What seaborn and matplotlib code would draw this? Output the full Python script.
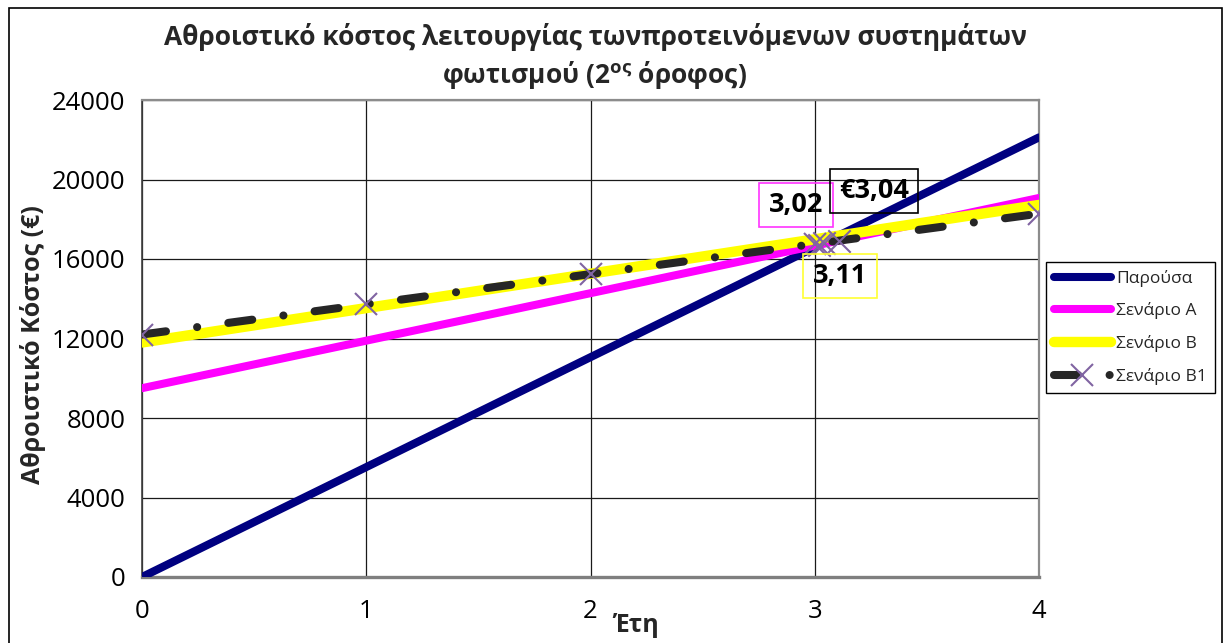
import matplotlib
matplotlib.use("Agg")
import matplotlib.pyplot as plt
import seaborn as sns
from matplotlib.patches import Rectangle

# ---- data ----
years = [0, 1, 2, 3, 4]
parousa = [0, 5530, 11060, 16590, 22120]
senario_a = [9500, 11890, 14280, 16670, 19070]
senario_b = [11800, 13530, 15260, 16990, 18720]
senario_b1 = [12200, 13720, 15240, 16760, 18280]

cross_years = [3.02, 3.04, 3.11]
cross_costs = [16720, 16800, 16900]
cross_labels = ["3,02", "€3,04", "3,11"]
cross_edge = ["#FF33FF", "#000000", "#FFFF33"]

x_ticks = [0, 1, 2, 3, 4]
y_ticks = [0, 4000, 8000, 12000, 16000, 20000, 24000]

title_line1 = "Αθροιστικό κόστος λειτουργίας τωνπροτεινόμενων συστημάτων"
title_line2 = "φωτισμού (2$^{\\mathregular{ος}}$ όροφος)"
y_label = "Αθροιστικό Κόστος (€)"
x_label = "Έτη"

# ---- style ----
sns.set_style("white")
plt.rcParams["font.family"] = ["Open Sans", "DejaVu Sans"]
plt.rcParams["mathtext.fontset"] = "custom"
plt.rcParams["mathtext.rm"] = "Open Sans"
plt.rcParams["mathtext.bf"] = "Open Sans:bold"
plt.rcParams["mathtext.it"] = "Open Sans:italic"

fig = plt.figure(figsize=(12.31, 6.43), dpi=100)
ax = fig.add_axes([142 / 1231, 1 - 577 / 643, (1039 - 142) / 1231, (577 - 100) / 643])

# outer frame
fig.patches.append(Rectangle((9 / 1231, -0.05), (1222 - 9) / 1231, 1.05 - 8 / 643,
                             transform=fig.transFigure, fill=False,
                             edgecolor="black", linewidth=1.2))

# ---- series ----
sns.lineplot(x=years, y=parousa, ax=ax, color="#000080", linewidth=5.8,
             label="Παρούσα", solid_capstyle="round", zorder=3)
sns.lineplot(x=years, y=senario_a, ax=ax, color="#FF00FF", linewidth=5.8,
             label="Σενάριο A", solid_capstyle="round", zorder=3)
sns.lineplot(x=years, y=senario_b, ax=ax, color="#FFFF00", linewidth=7.5,
             label="Σενάριο B", solid_capstyle="round", zorder=3)
sns.lineplot(x=years, y=senario_b1, ax=ax, color="#262626", linewidth=5.8,
             label="Σενάριο B1", zorder=4, dashes=False)
b1_line = ax.get_lines()[-1]
b1_line.set_linestyle((0, (3.0, 3.9, 0.01, 3.9)))
b1_line.set_dash_capstyle("round")
b1_line.set_marker("x")
b1_line.set_markersize(16)
b1_line.set_markeredgewidth(1.5)
b1_line.set_markeredgecolor("#8064A2")
b1_line.set_markerfacecolor("#8064A2")

sns.scatterplot(x=cross_years, y=cross_costs, ax=ax, marker="x", s=260,
                color="#8064A2", linewidth=1.5, zorder=5, legend=False)

# ---- labels for crossing points ----
label_pos = [(796, 205), (874, 191), (840, 276)]
for (px, py), txt, ec in zip(label_pos, cross_labels, cross_edge):
    fig.text(px / 1231, 1 - py / 643, txt, ha="center", va="center",
             fontsize=19.5, fontweight="bold", color="black",
             bbox=dict(boxstyle="square,pad=0.35", facecolor="none",
                       edgecolor=ec, linewidth=1.2))

# ---- axes ----
ax.set_xlim(0, 4)
ax.set_ylim(0, 24000)
ax.set_xticks(x_ticks)
ax.set_yticks(y_ticks)
ax.set_xticklabels([str(v) for v in x_ticks])
ax.set_yticklabels([str(v) for v in y_ticks])
ax.tick_params(axis="both", labelsize=18.5, direction="out", length=6,
               width=1, colors="#222222", labelcolor="black")
ax.tick_params(axis="x", pad=10)
ax.tick_params(axis="y", pad=6)
ax.grid(True, color="#1a1a1a", linewidth=0.9)
ax.set_axisbelow(True)
for side in ["top", "right"]:
    ax.spines[side].set_color("#8c8c8c")
    ax.spines[side].set_linewidth(1.6)
ax.spines["left"].set_color("#404040")
ax.spines["left"].set_linewidth(1.2)
ax.spines["bottom"].set_color("#7f7f7f")
ax.spines["bottom"].set_linewidth(2.4)

ax.set_ylabel("")
ax.set_xlabel("")
fig.text(33 / 1231, 1 - 345 / 643, y_label, ha="center", va="center",
         rotation=90, fontsize=18, fontweight="bold")
fig.text(636 / 1231, 1 - 626 / 643, x_label, ha="center", va="center",
         fontsize=18, fontweight="bold")

fig.text(595 / 1231, 1 - 37 / 643, title_line1, ha="center", va="center",
         fontsize=19, fontweight="bold")
fig.text(595 / 1231, 1 - 75 / 643, title_line2, ha="center", va="center",
         fontsize=19, fontweight="bold")

# ---- legend ----
leg = ax.legend(loc="upper left", bbox_to_anchor=(1046 / 1231, 1 - 262 / 643),
                bbox_transform=fig.transFigure, fontsize=12.5, frameon=True,
                fancybox=False, edgecolor="black", framealpha=1,
                handlelength=3.3, handletextpad=0.3, labelspacing=0.9,
                borderpad=0.45, borderaxespad=0)
leg.get_frame().set_linewidth(1.0)

fig.savefig("out.png", dpi=100)
